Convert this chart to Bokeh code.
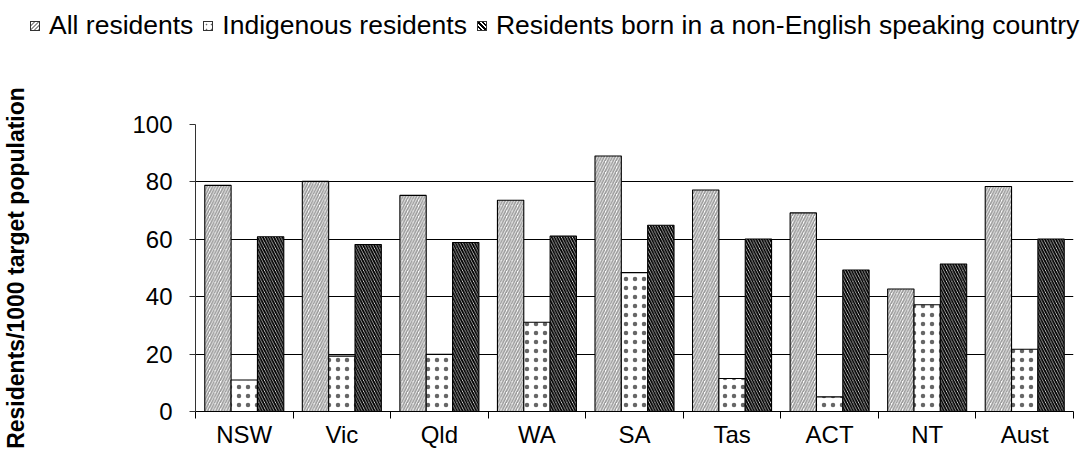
from bokeh.plotting import figure
from bokeh.models import Range1d, FixedTicker, ColumnDataSource, Div
from bokeh.layouts import column
from bokeh.embed import file_html
from bokeh.resources import INLINE

categories = ["NSW", "Vic", "Qld", "WA", "SA", "Tas", "ACT", "NT", "Aust"]
all_residents = [78.8, 80.2, 75.3, 73.6, 89.0, 77.2, 69.2, 42.7, 78.4]
indigenous = [11.0, 19.3, 19.9, 31.1, 48.4, 11.5, 5.1, 37.2, 21.7]
nesb = [60.9, 58.2, 58.9, 61.1, 64.9, 60.1, 49.3, 51.4, 60.1]
series_names = ["All residents", "Indigenous residents",
                "Residents born in a non-English speaking country"]
y_ticks = [0, 20, 40, 60, 80, 100]

FONT = "Liberation Sans"
BW = 0.27
LEG_H = 40

hatches = [
    dict(hatch_pattern="/", hatch_color="#999999", hatch_weight=1.7, hatch_scale=5.5),
    dict(hatch_pattern=".", hatch_color="#666666", hatch_weight=0.5, hatch_scale=9),
    dict(hatch_pattern="\\", hatch_color="#000000", hatch_weight=1.9, hatch_scale=5.5),
]
css_swatches = [
    "background: repeating-linear-gradient(135deg, #ffffff 0px, #ffffff 1.5px, #999999 1.5px, #999999 3px);",
    "background-color: #ffffff; background-image: radial-gradient(circle, #666666 0.7px, transparent 1.1px); background-size: 5px 5px; background-position: 0 0;",
    "background: repeating-linear-gradient(45deg, #ffffff 0px, #ffffff 1.5px, #000000 1.5px, #000000 3.2px);",
]

p = figure(width=1074, height=450 - LEG_H, output_backend="svg", toolbar_location=None,
           x_range=Range1d(0, len(categories)), y_range=Range1d(0, 100),
           min_border_left=190, min_border_right=1, min_border_top=124 - LEG_H,
           min_border_bottom=38)
p.outline_line_color = None

centers = [i + 0.5 for i in range(len(categories))]
offsets = [-BW, 0.0, BW]
for vals, off, hatch in zip([all_residents, indigenous, nesb], offsets, hatches):
    src = ColumnDataSource(dict(x=[c + off for c in centers], top=vals))
    p.vbar(x="x", top="top", bottom=0, width=BW, source=src,
           fill_color="white", line_color="black", line_width=1.1, **hatch)

xa = p.xaxis[0]
xa.ticker = FixedTicker(ticks=centers, minor_ticks=list(range(len(categories) + 1)))
xa.major_label_overrides = {c: lab for c, lab in zip(centers, categories)}
xa.major_tick_out = 0
xa.major_tick_in = 0
xa.minor_tick_out = 7
xa.minor_tick_in = 0
xa.minor_tick_line_color = "black"
xa.axis_line_color = "black"
xa.major_label_text_font = FONT
xa.major_label_text_font_size = "24px"
xa.major_label_text_color = "black"
xa.major_label_standoff = 2

ya = p.yaxis[0]
ya.ticker = FixedTicker(ticks=y_ticks, minor_ticks=[])
ya.major_tick_out = 6
ya.major_tick_in = 0
ya.axis_line_color = "#333333"
ya.major_tick_line_color = "#333333"
ya.major_label_text_font = FONT
ya.major_label_text_font_size = "24px"
ya.major_label_text_color = "black"
ya.major_label_standoff = 17
ya.axis_label = "Residents/1000 target population"
ya.axis_label_text_font = FONT
ya.axis_label_text_font_size = "23px"
ya.axis_label_text_font_style = "bold"
ya.axis_label_text_color = "black"
ya.axis_label_standoff = 100

p.xgrid.grid_line_color = None
p.ygrid.grid_line_color = "black"
p.ygrid.grid_line_width = 1

items_html = ""
for name, css in zip(series_names, css_swatches):
    items_html += (
        '<span style="display:inline-block; width:10px; height:10px; border:1px solid #333; '
        'vertical-align:middle; margin:0 9px 3px 0; ' + css + '"></span>'
        '<span style="margin-right:10px;">' + name + '</span>'
    )
legend_div = Div(
    text='<div style="font-family:\'Liberation Sans\', Arial, sans-serif; font-size:26.5px; color:#000; '
         'white-space:nowrap; padding:11px 0 0 30px; line-height:28px;">' + items_html + '</div>',
    width=1074, height=LEG_H, margin=(0, 0, 0, 0))

open("out.html", "w").write(file_html(column(legend_div, p, spacing=0), INLINE))
